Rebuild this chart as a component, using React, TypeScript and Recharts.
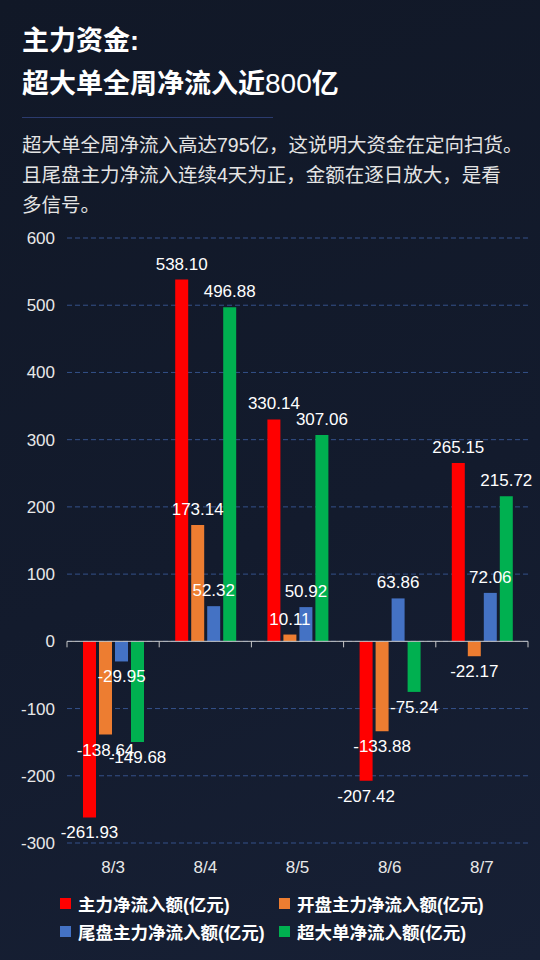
import { BarChart, Bar, XAxis, YAxis, CartesianGrid, ReferenceLine, LabelList } from 'recharts';

const DATES = ['8/3', '8/4', '8/5', '8/6', '8/7'];
const MAIN_FLOW = [-261.93, 538.1, 330.14, -207.42, 265.15];
const OPEN_FLOW = [-138.64, 173.14, 10.11, -133.88, -22.17];
const CLOSE_FLOW = [-29.95, 52.32, 50.92, 63.86, 72.06];
const HUGE_FLOW = [-149.68, 496.88, 307.06, -75.24, 215.72];
const Y_TICKS = [-300, -200, -100, 0, 100, 200, 300, 400, 500, 600];

const SERIES = [
  { key: 'main', name: '主力净流入额(亿元)', color: '#FF0000', values: MAIN_FLOW },
  { key: 'open', name: '开盘主力净流入额(亿元)', color: '#ED7D31', values: OPEN_FLOW },
  { key: 'close', name: '尾盘主力净流入额(亿元)', color: '#4472C4', values: CLOSE_FLOW },
  { key: 'huge', name: '超大单净流入额(亿元)', color: '#00B050', values: HUGE_FLOW },
];

const data = DATES.map((d, i) => {
  const row: Record<string, string | number> = { date: d };
  SERIES.forEach((s) => (row[s.key] = s.values[i]));
  return row;
});

const FONT = "'Liberation Sans', 'Noto Sans CJK SC', sans-serif";

const renderLabel = (p: any) => {
  const { x, y, width, height, value } = p;
  const v = Number(value);
  const top = Math.min(y, y + height);
  const bottom = Math.max(y, y + height);
  const ty = v >= 0 ? top - 10 : bottom + 21;
  return (
    <text x={x + width / 2} y={ty} textAnchor="middle" fill="#ffffff" fontSize={17} fontFamily={FONT}>
      {v.toFixed(2)}
    </text>
  );
};

// zero axis with tick marks at category boundaries
const ZeroAxis = (p: any) => {
  const { x1, y1, x2 } = p;
  const step = (x2 - x1) / DATES.length;
  return (
    <g>
      <line x1={x1} y1={y1} x2={x2} y2={y1} stroke="#c8c8c8" strokeWidth={1} />
      {DATES.concat(['']).map((_, i) => (
        <line key={i} x1={x1 + i * step} x2={x1 + i * step} y1={y1} y2={y1 + 6} stroke="#c8c8c8" strokeWidth={1} />
      ))}
    </g>
  );
};

export default function App() {
  return (
    <div
      style={{
        position: 'absolute',
        left: 0,
        top: 0,
        width: 540,
        height: 960,
        overflow: 'hidden',
        background: 'linear-gradient(160deg, #111827 0%, #131b2d 55%, #172035 100%)',
        fontFamily: FONT,
      }}
    >
      <div style={{ position: 'absolute', left: 22, top: 28, color: '#fff', fontSize: 27, fontWeight: 700, lineHeight: '27px' }}>
        主力资金:
      </div>
      <div style={{ position: 'absolute', left: 22, top: 70, color: '#fff', fontSize: 27, fontWeight: 700, lineHeight: '27px' }}>
        超大单全周净流入近<span style={{ fontWeight: 400, fontSize: 28 }}>800</span>亿
      </div>
      <div style={{ position: 'absolute', left: 22, top: 117, width: 251, height: 1, background: '#2b3b6e' }} />
      <div style={{ position: 'absolute', left: 22, top: 130, color: '#e4e4e4', fontSize: 19.5, lineHeight: '30px', whiteSpace: 'nowrap' }}>
        <div>超大单全周净流入高达795亿，这说明大资金在定向扫货。</div>
        <div>且尾盘主力净流入连续4天为正，金额在逐日放大，是看</div>
        <div>多信号。</div>
      </div>

      <div style={{ position: 'absolute', left: 0, top: 220 }}>
        <BarChart
          width={540}
          height={680}
          data={data}
          margin={{ top: 18, right: 12, bottom: 27, left: 0 }}
          barSize={13}
          barGap={3}
        >
          <CartesianGrid vertical={false} stroke="#34518a" strokeDasharray="5 3" />
          <XAxis
            dataKey="date"
            axisLine={false}
            tickLine={false}
            tickMargin={12}
            height={30}
            tick={{ fill: '#e8e8e8', fontSize: 17, fontFamily: FONT }}
          />
          <YAxis
            domain={[-300, 600]}
            ticks={Y_TICKS}
            axisLine={false}
            tickLine={false}
            tickMargin={6}
            width={67}
            tick={{ fill: '#e8e8e8', fontSize: 17, fontFamily: FONT }}
          />
          {SERIES.map((s) => (
            <Bar key={s.key} dataKey={s.key} name={s.name} fill={s.color} isAnimationActive={false}>
              <LabelList dataKey={s.key} content={renderLabel} />
            </Bar>
          ))}
          <ReferenceLine y={0} shape={ZeroAxis} />
        </BarChart>
      </div>

      <div style={{ position: 'absolute', left: 60, top: 892, width: 480, display: 'grid', gridTemplateColumns: '219px 260px', rowGap: 5 }}>
        {SERIES.map((s) => (
          <div
            key={s.key}
            style={{ display: 'flex', alignItems: 'center', height: 23, color: '#fff', fontSize: 17.5, fontWeight: 700, whiteSpace: 'nowrap' }}
          >
            <span style={{ width: 11, height: 11, background: s.color, marginRight: 7, display: 'inline-block', flexShrink: 0 }} />
            {s.name}
          </div>
        ))}
      </div>
    </div>
  );
}
